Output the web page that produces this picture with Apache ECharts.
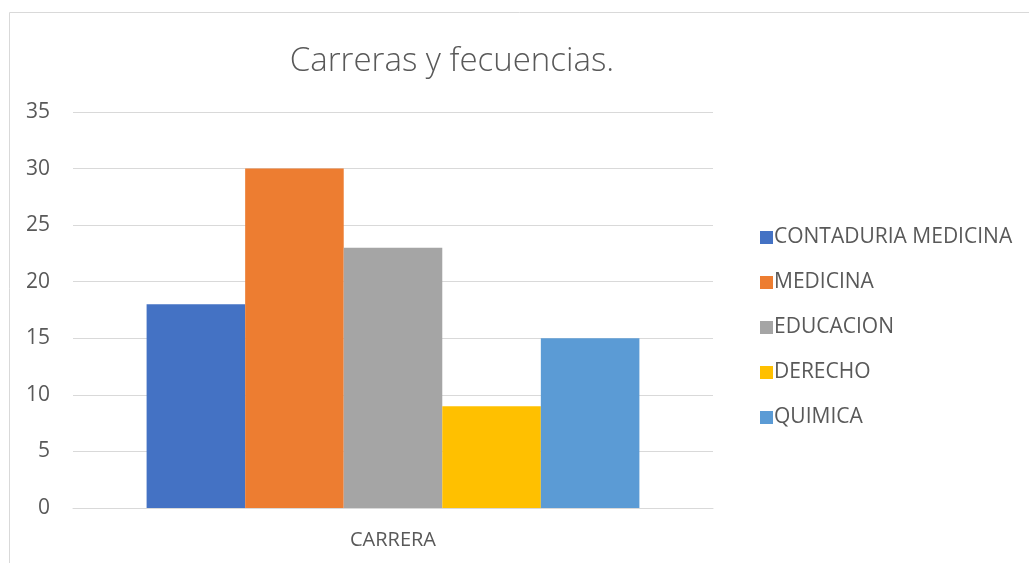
<!DOCTYPE html>
<html><head><meta charset="utf-8">
<script src="https://cdn.jsdelivr.net/npm/echarts@6/dist/echarts.min.js"></script>
<style>html,body{margin:0;padding:0;background:#fff}#c{width:1029px;height:563px}</style>
</head><body><div id="c"></div>
<script>
const categories = ['CARRERA'];
const seriesNames = ['CONTADURIA MEDICINA', 'MEDICINA', 'EDUCACION', 'DERECHO', 'QUIMICA'];
const seriesValues = [[18], [30], [23], [9], [15]];
const colors = ['#4472C4', '#ED7D31', '#A5A5A5', '#FFC000', '#5B9BD5'];
const yTicks = [0, 5, 10, 15, 20, 25, 30, 35];

const chart = echarts.init(document.getElementById('c'));
chart.setOption({
  animation: false,
  graphic: [{type: 'rect', shape: {x: 9.5, y: 12.5, width: 1040, height: 600}, style: {fill: 'none', stroke: '#d9d9d9', lineWidth: 1}}],
  title: {text: 'Carreras y fecuencias.', left: 447, top: 40, textAlign: 'center',
    textStyle: {fontFamily: 'Open Sans', fontWeight: 300, fontSize: 33, color: '#595959'}},
  legend: {orient: 'vertical', left: 755, top: 222, itemGap: 24, itemWidth: 13, itemHeight: 13, icon: 'rect',
    textStyle: {fontFamily: 'Open Sans', fontSize: 21, color: '#595959', padding: [0, 0, 0, -4]},
    data: seriesNames},
  grid: {left: 73, right: 316, top: 112, bottom: 55},
  xAxis: {type: 'category', data: categories,
    axisLine: {lineStyle: {color: '#d9d9d9', width: 1}}, axisTick: {show: false},
    axisLabel: {fontFamily: 'Open Sans', fontSize: 20, color: '#595959', margin: 22}},
  yAxis: {type: 'value', min: yTicks[0], max: yTicks[yTicks.length - 1], interval: 5,
    axisLine: {show: false}, axisTick: {show: false},
    splitLine: {lineStyle: {color: '#d9d9d9', width: 1}},
    axisLabel: {fontFamily: 'Open Sans', fontSize: 21, color: '#595959', margin: 23}},
  series: seriesNames.map((n, i) => ({
    name: n, type: 'bar', data: seriesValues[i], barGap: '0%', barCategoryGap: '23%',
    itemStyle: {color: colors[i]}
  }))
});
</script></body></html>
